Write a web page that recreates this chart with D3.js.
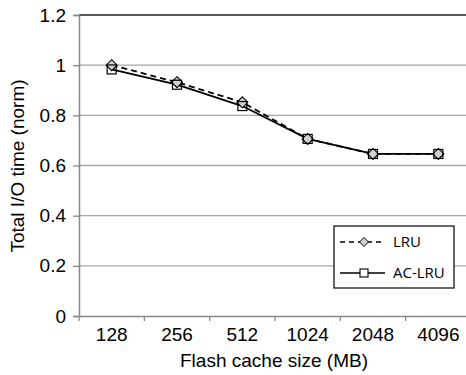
<!DOCTYPE html>
<html><head><meta charset="utf-8">
<script src="https://cdn.jsdelivr.net/npm/d3@7"></script>
<style>body{margin:0;background:#fff}svg{display:block}
.ax text,.ttl{font-family:"Liberation Sans",Arial,sans-serif;font-size:19px;fill:#000}
.leg{font-family:"Open Sans",sans-serif;font-size:15px;fill:#000}
</style>
</head><body>
<script>
const categories = ["128","256","512","1024","2048","4096"];
const lruValues = [1.0, 0.932, 0.852, 0.706, 0.646, 0.646];
const acLruValues = [0.983, 0.922, 0.837, 0.706, 0.646, 0.646];
const yTicks = [0, 0.2, 0.4, 0.6, 0.8, 1, 1.2];
const seriesNames = ["LRU", "AC-LRU"];

const W = 466, H = 375;
const svg = d3.select("body").append("svg").attr("width", W).attr("height", H);
const m = {left: 79, top: 15, right: 471, bottom: 316};
const x = d3.scaleBand().domain(categories).range([m.left, m.right]);
const y = d3.scaleLinear().domain([0, 1.2]).range([m.bottom, m.top]);

// gridlines
svg.append("g").selectAll("line").data(yTicks.filter(t => t > 0 && t < 1.2)).join("line")
  .attr("x1", m.left).attr("x2", m.right)
  .attr("y1", d => y(d)).attr("y2", d => y(d))
  .attr("stroke", "#a6a6a6").attr("stroke-width", 1.3);
// top border
svg.append("line").attr("x1", m.left).attr("x2", m.right).attr("y1", y(1.2)).attr("y2", y(1.2))
  .attr("stroke", "#222").attr("stroke-width", 1.3);

// y axis
const yAxis = d3.axisLeft(y).tickValues(yTicks).tickSize(6).tickPadding(7)
  .tickFormat(d => d3.format("")(+d.toFixed(1)));
const gy = svg.append("g").attr("class", "ax").attr("transform", `translate(${m.left},0)`).call(yAxis)
  .attr("font-family", null).attr("font-size", null);
gy.select(".domain").attr("stroke", "#888").attr("stroke-width", 1.5);
gy.selectAll(".tick line").attr("stroke", "#888").attr("stroke-width", 1.3);

// x axis
const xAxis = d3.axisBottom(x).tickSize(0).tickPadding(12);
const gx = svg.append("g").attr("class", "ax").attr("transform", `translate(0,${m.bottom})`).call(xAxis)
  .attr("font-family", null).attr("font-size", null);
gx.select(".domain").attr("stroke", "#888").attr("stroke-width", 1.5);
// band boundary ticks
svg.append("g").selectAll("line").data(categories).join("line")
  .attr("x1", d => x(d)).attr("x2", d => x(d))
  .attr("y1", m.bottom).attr("y2", m.bottom + 5)
  .attr("stroke", "#888").attr("stroke-width", 1.3);

// axis titles
svg.append("text").attr("class", "ttl").attr("x", 274).attr("y", 367).attr("text-anchor", "middle")
  .text("Flash cache size (MB)");
svg.append("text").attr("class", "ttl").attr("transform", "translate(24,166) rotate(-90)").attr("text-anchor", "middle")
  .text("Total I/O time (norm)");

const cx = d => x(d) + x.bandwidth() / 2;
const line = d3.line().x(d => cx(d.c)).y(d => y(d.v));
const lruData = categories.map((c, i) => ({c, v: lruValues[i]}));
const acData = categories.map((c, i) => ({c, v: acLruValues[i]}));

svg.append("path").datum(lruData).attr("d", line).attr("fill", "none")
  .attr("stroke", "#000").attr("stroke-width", 1.8).attr("stroke-dasharray", "6,4");
svg.append("path").datum(acData).attr("d", line).attr("fill", "none")
  .attr("stroke", "#000").attr("stroke-width", 1.8);

const diamond = (sx, sy, r) => `M${sx},${sy - r}L${sx + r},${sy}L${sx},${sy + r}L${sx - r},${sy}Z`;
svg.append("g").selectAll("path").data(lruData).join("path")
  .attr("d", d => diamond(cx(d.c), y(d.v), 5.5))
  .attr("fill", "#d0d0d0").attr("stroke", "#000").attr("stroke-width", 1.1);
svg.append("g").selectAll("rect").data(acData).join("rect")
  .attr("x", d => cx(d.c) - 4.5).attr("y", d => y(d.v) - 4.5).attr("width", 9).attr("height", 9)
  .attr("fill", "none").attr("stroke", "#000").attr("stroke-width", 1.2);

// legend
const lg = svg.append("g");
lg.append("rect").attr("x", 334).attr("y", 226).attr("width", 120).attr("height", 62)
  .attr("fill", "#fff").attr("stroke", "#000").attr("stroke-width", 1.2);
const legY = [242, 273];
lg.append("line").attr("x1", 340).attr("x2", 385).attr("y1", legY[0]).attr("y2", legY[0])
  .attr("stroke", "#000").attr("stroke-width", 1.5).attr("stroke-dasharray", "5,4");
lg.append("path").attr("d", diamond(364, legY[0], 4.5)).attr("fill", "#d0d0d0").attr("stroke", "#000").attr("stroke-width", 1);
lg.append("line").attr("x1", 340).attr("x2", 385).attr("y1", legY[1]).attr("y2", legY[1])
  .attr("stroke", "#000").attr("stroke-width", 1.5);
lg.append("rect").attr("x", 360).attr("y", legY[1] - 4).attr("width", 8).attr("height", 8)
  .attr("fill", "#fff").attr("stroke", "#000").attr("stroke-width", 1.1);
lg.selectAll("text.leg").data(seriesNames).join("text").attr("class", "leg")
  .attr("x", 393).attr("y", (d, i) => legY[i] + 5).text(d => d);
</script>
</body></html>
